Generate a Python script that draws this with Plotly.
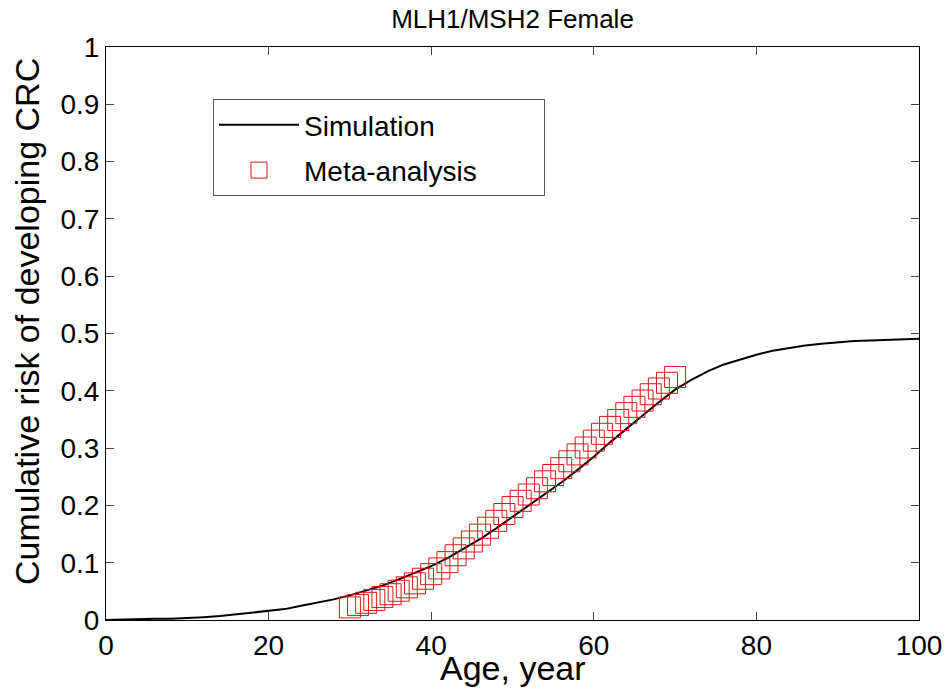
import plotly.graph_objects as go

# Simulation curve (age, cumulative risk)
sim_age = list(range(0, 101, 2))
sim_risk = [0.000, 0.001, 0.002, 0.002, 0.002, 0.003, 0.005, 0.007, 0.010, 0.013,
            0.015, 0.019, 0.025, 0.030, 0.036, 0.043, 0.051, 0.060, 0.071, 0.082,
            0.094, 0.108, 0.124, 0.141, 0.160, 0.180, 0.199, 0.219, 0.240, 0.262,
            0.285, 0.310, 0.334, 0.357, 0.380, 0.402, 0.419, 0.434, 0.446, 0.455,
            0.463, 0.470, 0.475, 0.479, 0.482, 0.485, 0.487, 0.488, 0.489, 0.490,
            0.491]

# Meta-analysis points
meta_age = list(range(30, 71))
meta_risk = [0.022, 0.026, 0.030, 0.035, 0.040, 0.045, 0.051, 0.057, 0.064, 0.072,
             0.080, 0.090, 0.101, 0.113, 0.125, 0.137, 0.149, 0.161, 0.173, 0.185,
             0.197, 0.208, 0.219, 0.230, 0.242, 0.253, 0.265, 0.277, 0.289, 0.301,
             0.313, 0.325, 0.337, 0.349, 0.361, 0.372, 0.383, 0.394, 0.404, 0.414,
             0.424]

x_ticks = [0, 20, 40, 60, 80, 100]
y_ticks = [0, 0.1, 0.2, 0.3, 0.4, 0.5, 0.6, 0.7, 0.8, 0.9, 1]
y_tick_text = ["0", "0.1", "0.2", "0.3", "0.4", "0.5", "0.6", "0.7", "0.8", "0.9", "1"]

FONT = "Liberation Sans, Arial, sans-serif"
PAD = "\u00a0" * 8

fig = go.Figure()
fig.add_trace(go.Scatter(x=sim_age, y=sim_risk, mode="lines", name="Simulation",
                         legendgroup="a",
                         line=dict(color="black", width=2)))
fig.add_trace(go.Scatter(x=meta_age, y=meta_risk, mode="markers",
                         name="Meta-analysis" + PAD, legendgroup="b",
                         marker=dict(symbol="square-open", size=21,
                                     color="rgb(210,25,25)", line=dict(width=1))))

fig.update_layout(
    width=948, height=688,
    margin=dict(l=106, r=29, t=47, b=68),
    paper_bgcolor="white", plot_bgcolor="white",
    title=dict(text="MLH1/MSH2 Female", x=(106 + 919) / 2 / 948, xanchor="center",
               y=1 - 19 / 688, yanchor="middle",
               font=dict(family=FONT, size=26, color="black")),
    font=dict(family=FONT, color="black"),
    showlegend=True,
    legend=dict(x=(213 - 106) / 813, y=(620 - 99) / 573, xanchor="left", yanchor="top",
                bordercolor="rgb(90,90,90)", borderwidth=1, bgcolor="white",
                font=dict(family=FONT, size=28, color="black"),
                tracegroupgap=6, itemwidth=80),
    xaxis=dict(range=[0, 100], tickvals=x_ticks, ticks="inside", ticklen=8,
               showline=True, linecolor="black", linewidth=1, mirror="ticks",
               showgrid=False, zeroline=False, automargin=False,
               tickfont=dict(family=FONT, size=28, color="black")),
    yaxis=dict(range=[0, 1], tickvals=y_ticks, ticktext=y_tick_text, ticks="inside",
               ticklen=8, showline=True, linecolor="black", linewidth=1, mirror="ticks",
               showgrid=False, zeroline=False, automargin=False,
               tickfont=dict(family=FONT, size=28, color="black")),
    annotations=[
        dict(text="Age, year", xref="paper", yref="paper", x=0.5, xanchor="center",
             y=-(668 - 620) / 573, yanchor="middle", showarrow=False,
             font=dict(family=FONT, size=34, color="black")),
        dict(text="Cumulative risk of developing CRC", xref="paper", yref="paper",
             x=-(106 - 27) / 813, xanchor="center", y=(620 - 322) / 573, yanchor="middle",
             textangle=-90, showarrow=False,
             font=dict(family=FONT, size=34, color="black")),
    ],
)

fig.write_html("out.html")
